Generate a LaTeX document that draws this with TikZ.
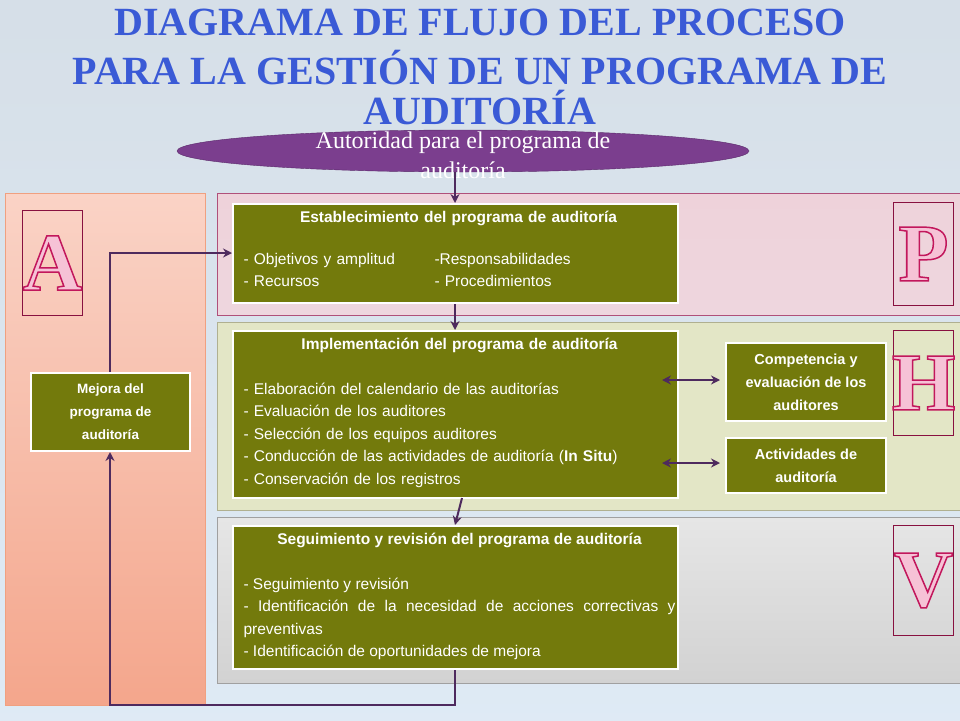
\documentclass[tikz,border=0pt]{standalone}
\usepackage{fontspec}
\setmainfont{Liberation Sans}
\newfontfamily\titlefont{Liberation Serif}
\usetikzlibrary{arrows.meta,shapes.geometric}
\definecolor{bgb}{HTML}{C9DCEE}
\definecolor{olive}{HTML}{737A0C}
\definecolor{arr}{HTML}{4E2A5E}
\definecolor{ttl}{HTML}{3A5AD6}
\definecolor{lett}{HTML}{F6C2D6}
\definecolor{lettd}{HTML}{C2185B}
\definecolor{saA}{HTML}{FAD3C6}\definecolor{saB}{HTML}{F4A68C}\definecolor{saC}{HTML}{F0A080}
\definecolor{pkA}{HTML}{EED2DA}\definecolor{pkB}{HTML}{DCA7B7}\definecolor{pkC}{HTML}{EED6DE}\definecolor{pkD}{HTML}{B0507A}
\definecolor{gnA}{HTML}{E3E6C6}\definecolor{gnB}{HTML}{B0B090}
\definecolor{gyA}{HTML}{E6E6E6}\definecolor{gyB}{HTML}{D2D2D2}\definecolor{gyC}{HTML}{A0A0A0}
\definecolor{elA}{HTML}{5A2A6A}\definecolor{elB}{HTML}{7B3E8E}
\tikzset{
 obox/.style={draw=white,line width=2pt,fill=olive,text=white,inner sep=0pt,anchor=north west},
 lbox/.style={draw=lettd!70!black,line width=1pt,anchor=north west,inner sep=0pt},
 con/.style={draw=arr,line width=2pt,-{Stealth[length=9pt,width=9pt]}},
 dcon/.style={draw=arr,line width=2pt,{Stealth[length=9pt,width=9pt]}-{Stealth[length=9pt,width=9pt]}},
 ttxt/.style={text=ttl,font=\titlefont\bfseries\fontsize{40}{40}\selectfont},
 bigl/.style={text=lett,font=\titlefont\bfseries\fontsize{82}{82}\selectfont},
 btxt/.style={text=white,font=\fontsize{15.5}{22.5}\selectfont},
}
\newcommand\olet[1]{\special{pdf:literal direct 2 Tr 1.5 w 0.76 0.09 0.36 RG}#1\special{pdf:literal direct 0 Tr}}
\begin{document}
\begin{tikzpicture}[x=1pt,y=-1pt]
\useasboundingbox (0,0) rectangle (960,720);
\shade[top color=bgb!80!gray!60!white,bottom color=bgb!60!white] (0,0) rectangle (960,720);
% title
\node[ttxt] (t1) at (480,22) {DIAGRAMA DE FLUJO DEL PROCESO};
\node[ttxt] (t2) at (480,68) {PARA LA GESTIÓN DE UN PROGRAMA DE};
\node[ttxt] (t3) at (480,108) {AUDITORÍA};
% bands
\shade[top color=saA,bottom color=saB,draw=saC] (5,193) rectangle (205,705);
\shade[top color=pkA,middle color=pkB,bottom color=pkC,draw=pkD] (217,193) rectangle (962,315);
\fill[gnA,draw=gnB] (217,322) rectangle (962,510);
\shade[top color=gyA,bottom color=gyB,draw=gyC] (217,517) rectangle (962,683);
% ellipse
\node[ellipse,draw=elA,fill=elB,minimum width=572,minimum height=42,inner sep=0pt] (aut) at (463,151) {};
\node[text=white,align=center,font=\titlefont\fontsize{24}{30}\selectfont] (autt) at (463,155) {Autoridad para el programa de\\auditoría};
% letters
\node[lbox,minimum width=60,minimum height=105] (LA) at (22,210) {};
\node[bigl] (LAt) at (LA.center) {\olet{A}};
\node[lbox,minimum width=60,minimum height=103] (LP) at (893,202) {};
\node[bigl] (LPt) at (LP.center) {\olet{P}};
\node[lbox,minimum width=60,minimum height=105] (LH) at (893,330) {};
\node[bigl] (LHt) at (LH.center) {\olet{H}};
\node[lbox,minimum width=60,minimum height=110] (LV) at (893,525) {};
\node[bigl] (LVt) at (LV.center) {\olet{V}};
% boxes
\node[obox,minimum width=445,minimum height=99] (est) at (232,203) {};
\node[btxt,anchor=north west,text width=430,align=left] (estt) at (240,208) {\hfill\textbf{Establecimiento del programa de auditoría}\hfill\null\\[22pt]
\begin{tabular}{@{}p{191pt}@{}l@{}}- Objetivos y amplitud & -Responsabilidades\\[-1pt] - Recursos & - Procedimientos\end{tabular}};
\node[obox,minimum width=445,minimum height=167] (imp) at (232,330) {};
\node[btxt,anchor=north west,text width=432,align=left] (impt) at (240,335) {\hfill\textbf{Implementación del programa de auditoría}\hfill\null\\[22pt]
- Elaboración del calendario de las auditorías\\
- Evaluación de los auditores\\
- Selección de los equipos auditores\\
- Conducción de las actividades de auditoría (\textbf{In Situ})\\
- Conservación de los registros};
\node[obox,minimum width=445,minimum height=143] (seg) at (232,525) {};
\node[btxt,anchor=north west,text width=432,align=justify] (segt) at (240,530) {\hyphenpenalty=10000\centerline{\textbf{Seguimiento y revisión del programa de auditoría}}\par\vspace{22pt}
- Seguimiento y revisión\par
- Identificación de la necesidad de acciones correctivas y preventivas\par
- Identificación de oportunidades de mejora};
\node[obox,minimum width=160,minimum height=78] (comp) at (725,342) {};
\node[btxt,align=center,font=\bfseries\fontsize{14.5}{23}\selectfont] (compt) at (comp.center) {Competencia y\\evaluación de los\\auditores};
\node[obox,minimum width=160,minimum height=55] (act) at (725,437) {};
\node[btxt,align=center,font=\bfseries\fontsize{14.5}{23}\selectfont] (actt) at (act.center) {Actividades de\\auditoría};
\node[obox,minimum width=159,minimum height=78] (mej) at (30,372) {};
\node[btxt,align=center,font=\bfseries\fontsize{13.5}{23}\selectfont] (mejt) at (mej.center) {Mejora del\\programa de\\auditoría};
% connectors
\coordinate (ab) at (455,172);
\draw[con] (ab) -- (est.north -| ab);
\draw[con] (est.south -| ab) -- (imp.north -| ab);
\draw[con] (462,498) -- (455,525);
\coordinate (i1) at (662,380);
\coordinate (i2) at (662,463);
\draw[dcon] (i1) -- ([xshift=-5pt]i1 -| comp.west);
\draw[dcon] (i2) -- ([xshift=-5pt]i2 -| act.west);
\coordinate (lp) at (110,705);
\draw[con] (seg.south -| ab) |- (lp) -- (mej.south -| lp);
\draw[con] (mej.north -| lp) |- (est.west |- 0,253);
\end{tikzpicture}
\end{document}
